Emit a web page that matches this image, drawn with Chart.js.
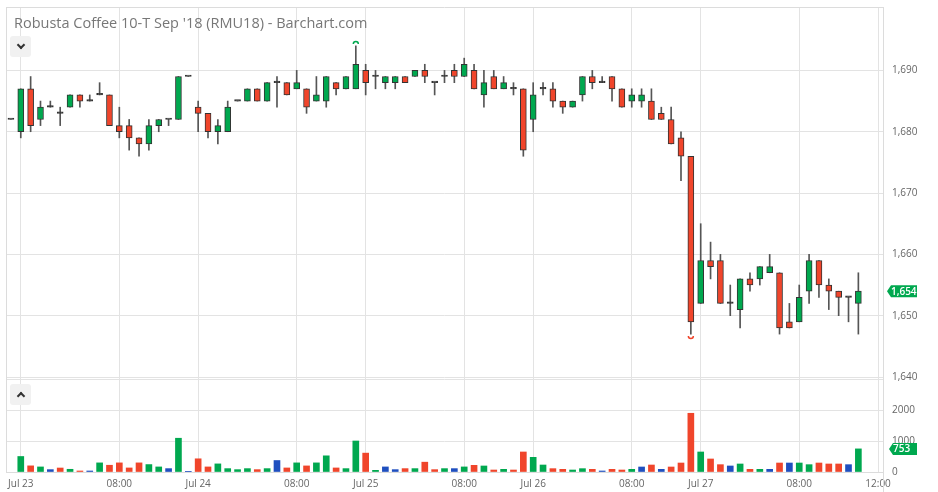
<!DOCTYPE html>
<html>
<head>
<meta charset="utf-8">
<script src="https://cdn.jsdelivr.net/npm/chart.js@4.4.1/dist/chart.umd.min.js"></script>
<style>
  body { margin: 0; background: #fff; }
  #wrap { position: relative; width: 938px; height: 492px; }
  #chart { position: absolute; left: 0; top: 0; }
  .title { position: absolute; left: 14px; top: 16px; font: 14.5px/14px "Open Sans", sans-serif; color: #777; white-space: nowrap; }
  .btn { position: absolute; left: 10px; width: 21px; height: 21px; background: #f1f1f1; border-radius: 3px; }
  .chev { position: absolute; left: 8px; width: 4px; height: 4px; border-right: 2px solid #333; border-bottom: 2px solid #333; }
  .chev.down { top: 6px; transform: rotate(45deg); }
  .chev.up { top: 9px; transform: rotate(-135deg); }
</style>
</head>
<body>
<div id="wrap">
  <canvas id="chart" width="938" height="492"></canvas>
  <div class="title">Robusta Coffee 10-T Sep '18 (RMU18) - Barchart.com</div>
  <div class="btn" style="top:36px"><span class="chev down"></span></div>
  <div class="btn" style="top:384px"><span class="chev up"></span></div>
</div>
<script>
// 30-minute bars; first bar is the last one of Jul 20, Jul 27 ends with two empty slots (11:30, 12:00)
const sessionDays = ['Jul 23', 'Jul 24', 'Jul 25', 'Jul 26', 'Jul 27'];
const sessionBars = [18, 17, 17, 17, 19];

const priceTicks = [1640, 1650, 1660, 1670, 1680, 1690];
const volumeTicks = [0, 1000, 2000, 3000];

const openPrices = [1682,
    1680, 1687, 1682, 1684, 1683, 1684, 1686, 1685, 1686, 1686, 1681, 1681, 1679, 1678, 1681, 1682, 1682, 1689,
    1684, 1683, 1680, 1680, 1685, 1685, 1687, 1685, 1688, 1688, 1687, 1687, 1685, 1685, 1688, 1687, 1687,
    1690, 1689, 1688, 1688, 1689, 1689, 1690, 1688, 1689, 1690, 1689, 1690, 1686, 1689, 1687, 1687, 1687,
    1682, 1687, 1687, 1685, 1684, 1686, 1689, 1688, 1689, 1687, 1685, 1685, 1685, 1683, 1682, 1679, 1676,
    1652, 1659, 1659, 1652, 1651, 1656, 1656, 1657, 1657, 1649, 1649, 1654, 1659, 1655, 1654, 1653, 1652];
const highPrices = [1682,
    1687, 1689, 1685, 1685, 1684, 1686, 1686, 1686, 1688, 1686, 1684, 1682, 1679, 1682, 1682, 1682, 1689, 1689,
    1685, 1683, 1682, 1685, 1685, 1687, 1687, 1688, 1689, 1688, 1690, 1687, 1689, 1689, 1688, 1689, 1694,
    1691, 1690, 1689, 1689, 1689, 1690, 1691, 1688, 1690, 1691, 1692, 1691, 1690, 1690, 1689, 1688, 1687,
    1688, 1688, 1688, 1685, 1685, 1689, 1690, 1689, 1689, 1687, 1687, 1687, 1687, 1684, 1684, 1680, 1676,
    1665, 1662, 1660, 1655, 1656, 1657, 1658, 1660, 1657, 1652, 1655, 1660, 1659, 1656, 1654, 1653, 1657];
const lowPrices = [1682,
    1679, 1680, 1681, 1684, 1681, 1684, 1684, 1685, 1686, 1681, 1679, 1677, 1676, 1677, 1680, 1681, 1682, 1689,
    1680, 1679, 1678, 1680, 1685, 1685, 1685, 1685, 1684, 1686, 1687, 1683, 1685, 1684, 1686, 1687, 1687,
    1686, 1687, 1687, 1687, 1688, 1689, 1688, 1686, 1688, 1688, 1689, 1687, 1684, 1687, 1687, 1686, 1676,
    1680, 1686, 1684, 1683, 1684, 1685, 1687, 1688, 1685, 1684, 1684, 1684, 1682, 1682, 1678, 1672, 1647,
    1652, 1656, 1652, 1650, 1648, 1654, 1655, 1657, 1647, 1648, 1649, 1652, 1653, 1651, 1650, 1649, 1647];
const closePrices = [1682,
    1687, 1681, 1684, 1684, 1683, 1686, 1685, 1685, 1686, 1681, 1680, 1679, 1678, 1681, 1682, 1682, 1689, 1689,
    1683, 1680, 1681, 1684, 1685, 1687, 1685, 1688, 1688, 1686, 1688, 1684, 1686, 1689, 1687, 1689, 1691,
    1688, 1689, 1689, 1689, 1688, 1690, 1689, 1688, 1689, 1689, 1691, 1687, 1688, 1687, 1688, 1687, 1677,
    1686, 1687, 1685, 1684, 1685, 1689, 1688, 1688, 1687, 1684, 1686, 1686, 1682, 1682, 1678, 1676, 1649,
    1659, 1658, 1652, 1652, 1656, 1655, 1658, 1658, 1648, 1648, 1653, 1659, 1655, 1654, 1653, 1653, 1654];
const volumes = [null,
    505, 200, 165, 77, 130, 88, 33, 33, 297, 220, 297, 132, 297, 242, 165, 110, 1100, 5,
    430, 165, 264, 110, 77, 110, 77, 110, 374, 132, 297, 198, 297, 527, 132, 110, 1010,
    615, 55, 165, 77, 110, 110, 320, 77, 110, 110, 165, 217, 196, 65, 87, 65, 652,
    478, 228, 109, 87, 65, 109, 87, 33, 87, 65, 87, 163, 228, 87, 163, 293, 1913,
    652, 424, 239, 196, 261, 87, 87, 87, 293, 293, 293, 239, 293, 261, 261, 239, 753];

const UP = '#00a84f', DOWN = '#f0452b', SAME = '#1f4fbf', INK = '#333';

function pad2(n) { return String(n).padStart(2, '0'); }

const times = ['Jul 20 11:30'];
sessionDays.forEach((day, d) => {
    for (let j = 0; j < sessionBars[d]; j++) {
        const mins = 180 + j * 30;
        times.push(day + ' ' + pad2(Math.floor(mins / 60)) + ':' + pad2(mins % 60));
    }
});

const bodies = openPrices.map((o, i) => [o, closePrices[i]]);
const wicks = lowPrices.map((l, i) => [l, highPrices[i]]);
const bodyColors = openPrices.map((o, i) => closePrices[i] > o ? UP : closePrices[i] < o ? DOWN : INK);
const volumeColors = closePrices.map((c, i) => {
    if (i === 0) return SAME;
    const p = closePrices[i - 1];
    return c > p ? UP : c < p ? DOWN : SAME;
});

function drawTag(ctx, yPix, text, tip) {
    ctx.fillStyle = UP;
    ctx.beginPath();
    ctx.moveTo(tip, yPix);
    ctx.lineTo(tip + 4, yPix - 6);
    ctx.lineTo(917, yPix - 6);
    ctx.lineTo(917, yPix + 6);
    ctx.lineTo(tip + 4, yPix + 6);
    ctx.closePath();
    ctx.fill();
    ctx.fillStyle = '#fff';
    ctx.font = '600 10px "Open Sans"';
    ctx.textAlign = 'left';
    ctx.textBaseline = 'middle';
    ctx.fillText(text, tip + 4, yPix + 0.5);
}

const chartDecor = {
    id: 'chartDecor',
    afterDraw(chart) {
        const { ctx, chartArea: a } = chart;
        const x = chart.scales.x, y = chart.scales.y, yv = chart.scales.yv;
        ctx.save();
        ctx.strokeStyle = '#dcdcdc';
        ctx.lineWidth = 1;
        ctx.beginPath();
        ctx.moveTo(a.left + 0.5, a.top);
        ctx.lineTo(a.left + 0.5, a.bottom);
        ctx.moveTo(a.left, a.top + 0.5);
        ctx.lineTo(a.right, a.top + 0.5);
        ctx.moveTo(Math.round(a.right) + 0.5, a.top);
        ctx.lineTo(Math.round(a.right) + 0.5, chart.height);
        ctx.stroke();

        // session high / low markers
        const hi = highPrices.indexOf(Math.max(...highPrices));
        const lo = lowPrices.indexOf(Math.min(...lowPrices));
        ctx.lineWidth = 1.5;
        ctx.strokeStyle = UP;
        ctx.beginPath();
        ctx.arc(x.getPixelForValue(hi), y.getPixelForValue(highPrices[hi]) - 2, 2.5, Math.PI, 2 * Math.PI);
        ctx.stroke();
        ctx.strokeStyle = DOWN;
        ctx.beginPath();
        ctx.arc(x.getPixelForValue(lo), y.getPixelForValue(lowPrices[lo]) + 2, 2.5, 0, Math.PI);
        ctx.stroke();

        const last = closePrices.length - 1;
        drawTag(ctx, y.getPixelForValue(closePrices[last]), closePrices[last].toLocaleString('en-US'), 887);
        drawTag(ctx, yv.getPixelForValue(volumes[last]), String(volumes[last]), 889);
        ctx.restore();
    }
};

const tickFont = { family: 'Open Sans', size: 10 };

function fixWidth(s) {
    s.width = 55;
    s.paddingTop = 0;
    s.paddingBottom = 0;
}

new Chart(document.getElementById('chart'), {
    type: 'bar',
    data: {
        labels: times,
        datasets: [
            {
                label: 'Body',
                data: bodies,
                yAxisID: 'y',
                backgroundColor: bodyColors,
                borderColor: INK,
                borderWidth: 1,
                borderSkipped: false,
                barThickness: 6,
                minBarLength: 1.5
            },
            {
                label: 'Wick',
                data: wicks,
                yAxisID: 'y',
                backgroundColor: '#555',
                barThickness: 1
            },
            {
                label: 'Volume',
                data: volumes,
                yAxisID: 'yv',
                backgroundColor: volumeColors,
                barThickness: 6
            }
        ]
    },
    options: {
        responsive: false,
        animation: false,
        devicePixelRatio: 1,
        datasets: { bar: { grouped: false } },
        layout: { padding: { left: 6, top: 7, right: 0, bottom: 0 } },
        plugins: {
            legend: { display: false },
            tooltip: { enabled: false }
        },
        scales: {
            x: {
                offset: true,
                grid: { offset: false, color: '#e3e3e3', drawTicks: false },
                border: { color: '#dcdcdc' },
                ticks: {
                    autoSkip: false,
                    maxRotation: 0,
                    padding: 6,
                    color: '#666',
                    font: tickFont,
                    callback: function(value) {
                        const parts = this.getLabelForValue(value).split(' ');
                        if (parts[2] === '03:00') return parts[0] + ' ' + parts[1];
                        if (parts[2] === '08:00' || parts[2] === '12:00') return parts[2];
                        return null;
                    }
                },
                afterFit: s => {
                    s.height = 20;
                    s.paddingLeft = 0;
                    s.paddingRight = 0;
                }
            },
            y: {
                position: 'right',
                stack: 'panels',
                stackWeight: 371,
                min: 1639.84,
                max: 1700.34,
                grid: { color: '#e3e3e3', drawTicks: false },
                border: { color: '#dcdcdc' },
                afterBuildTicks: s => { s.ticks = priceTicks.map(v => ({ value: v })); },
                ticks: {
                    padding: 9,
                    color: '#666',
                    font: tickFont,
                    callback: v => v.toLocaleString('en-US')
                },
                afterFit: fixWidth
            },
            yv: {
                position: 'right',
                stack: 'panels',
                stackWeight: 94,
                min: 0,
                max: 3062,
                grid: { color: '#e3e3e3', drawTicks: false },
                border: { color: '#dcdcdc' },
                afterBuildTicks: s => { s.ticks = volumeTicks.map(v => ({ value: v })); },
                ticks: {
                    padding: 9,
                    color: '#666',
                    font: tickFont,
                    callback: v => v >= 3000 ? '' : String(v)
                },
                afterFit: fixWidth
            }
        }
    },
    plugins: [chartDecor]
});
</script>
</body>
</html>
